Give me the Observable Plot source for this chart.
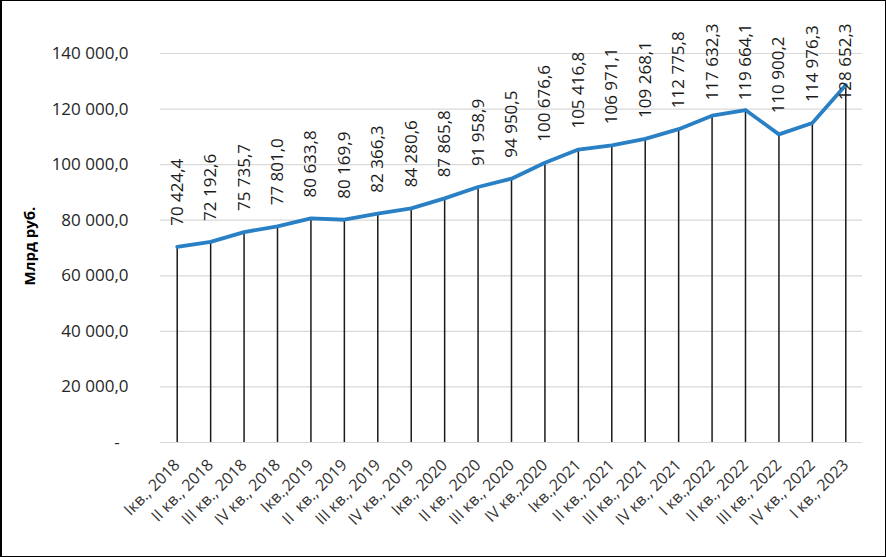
<!DOCTYPE html>
<html>
<head>
<meta charset="utf-8">
<script src="https://cdn.jsdelivr.net/npm/d3@7"></script>
<script src="https://cdn.jsdelivr.net/npm/@observablehq/plot@0.6"></script>
<style>
  html, body { margin: 0; padding: 0; background: #fff; }
  #wrap { position: relative; width: 886px; height: 557px; overflow: hidden; }
  #frame { position: absolute; left: 0; top: 0; width: 886px; height: 557px; box-sizing: border-box;
           border: 1.5px solid #000; border-left-width: 2px; pointer-events: none; }
</style>
</head>
<body>
<div id="wrap"><div id="chart"></div><div id="frame"></div></div>
<script>
const quarters = [
  "Iкв., 2018", "II кв., 2018", "III кв., 2018", "IV кв., 2018",
  "Iкв.,2019", "II  кв., 2019", "III кв., 2019", "IV кв., 2019",
  "Iкв., 2020", "II кв., 2020", "III кв., 2020", "IV кв.,2020",
  "Iкв.,2021", "II кв., 2021", "III кв., 2021", "IV кв., 2021",
  "I кв.,2022", "II кв., 2022", "III кв., 2022", "IV кв., 2022",
  "I кв., 2023"
];
const values = [
  70424.4, 72192.6, 75735.7, 77801.0,
  80633.8, 80169.9, 82366.3, 84280.6,
  87865.8, 91958.9, 94950.5, 100676.6,
  105416.8, 106971.1, 109268.1, 112775.8,
  117632.3, 119664.1, 110900.2, 114976.3,
  128652.3
];
const yTicks = [0, 20000, 40000, 60000, 80000, 100000, 120000, 140000];
const yTitle = "Млрд руб.";

const data = quarters.map((q, i) => ({q, v: values[i]}));

const W = 886, H = 557;
const mL = 160, mR = 24, mT = 53, mB = 115;
const yMax = 140000;
const FONT = "'Open Sans', sans-serif";

const fmt = v => {
  const s = v.toFixed(1).split(".");
  return s[0].replace(/\B(?=(\d{3})+(?!\d))/g, "\u00a0") + "," + s[1];
};
const yFmt = v => v === 0 ? "-\u00a0\u00a0" : fmt(v);

// label placement: Excel pushes labels that would overflow the top down to the top edge
const labelGap = 21, charLen = 8.4, topLimit = 23;
const pixY = v => mT + (1 - v / yMax) * (H - mT - mB);
const clamped = d => pixY(d.v) - labelGap - fmt(d.v).length * charLen < topLimit;

const chart = Plot.plot({
  width: W, height: H,
  marginLeft: mL, marginRight: mR, marginTop: mT, marginBottom: mB,
  style: {fontFamily: FONT, background: "#fff"},
  x: {type: "point", domain: quarters, padding: 0.5, round: false, label: null},
  y: {domain: [0, yMax], label: null},
  marks: [
    Plot.ruleY(yTicks, {stroke: "#d9d9d9", strokeWidth: 1.2}),
    Plot.axisY(yTicks, {tickSize: 0, tickPadding: 32, tickFormat: yFmt, fontSize: 17, fill: "#262626", label: null}),
    Plot.axisX({tickSize: 0, tickRotate: -45, tickPadding: 20, fontSize: 16, fill: "#333", label: null}),
    Plot.ruleX(data, {x: "q", y1: 0, y2: "v", stroke: "#1a1a1a", strokeWidth: 1.5}),
    Plot.line(data, {x: "q", y: "v", stroke: "#2a80c4", strokeWidth: 3.8, strokeLinejoin: "round", strokeLinecap: "round"}),
    Plot.text(data.filter(d => !clamped(d)), {x: "q", y: "v", text: d => fmt(d.v), rotate: -90, textAnchor: "start", lineAnchor: "middle", dy: -labelGap, fontSize: 17, fill: "#1a1a1a"}),
    Plot.text(data.filter(clamped), {x: "q", text: d => fmt(d.v), frameAnchor: "top", rotate: -90, textAnchor: "end", lineAnchor: "middle", dy: topLimit - mT, fontSize: 17, fill: "#1a1a1a"}),
    Plot.text([yTitle], {text: d => d, frameAnchor: "left", dx: 30 - mL, dy: -2, rotate: -90, textAnchor: "middle", lineAnchor: "middle", fontSize: 15, fontWeight: "bold", fill: "#000"})
  ]
});
document.getElementById("chart").appendChild(chart);
</script>
</body>
</html>
